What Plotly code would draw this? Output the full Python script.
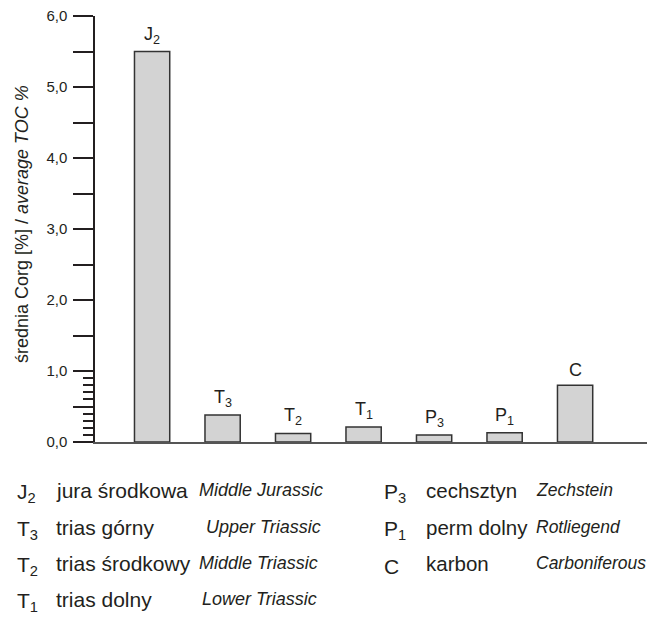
import plotly.graph_objects as go

# ---- data ----
categories = ["J2", "T3", "T2", "T1", "P3", "P1", "C"]
bar_labels = ["J<sub>2</sub>", "T<sub>3</sub>", "T<sub>2</sub>", "T<sub>1</sub>",
              "P<sub>3</sub>", "P<sub>1</sub>", "C"]
avg_toc = [5.5, 0.38, 0.12, 0.21, 0.10, 0.13, 0.80]

major_vals = [0, 0.5, 1, 1.5, 2, 2.5, 3, 3.5, 4, 4.5, 5, 5.5, 6]
major_text = ["0,0", "", "1,0", "", "2,0", "", "3,0", "", "4,0", "", "5,0", "", "6,0"]
minor_vals = [0.1, 0.2, 0.3, 0.4, 0.6, 0.7, 0.8, 0.9]

legend_col1_sym = ["J<sub>2</sub>", "T<sub>3</sub>", "T<sub>2</sub>", "T<sub>1</sub>"]
legend_col1_pl = ["jura środkowa", "trias górny", "trias środkowy", "trias dolny"]
legend_col1_en = ["Middle Jurassic", "Upper Triassic", "Middle Triassic", "Lower Triassic"]
legend_col2_sym = ["P<sub>3</sub>", "P<sub>1</sub>", "C"]
legend_col2_pl = ["cechsztyn", "perm dolny", "karbon"]
legend_col2_en = ["Zechstein", "Rotliegend", "Carboniferous"]

# ---- layout geometry (screen pixels; page body has an 8px margin) ----
OFF = 8
W, H = 655 - 2 * OFF, 623 - 2 * OFF
X0, X1 = 95, 647          # plot area left/right on screen
Y0, Y1 = 16, 442          # plot area top/bottom on screen
L = X0 - OFF
R = W - (X1 - OFF)
T = Y0 - OFF
B = H - (Y1 - OFF)
PW, PH = W - L - R, H - T - B

def px(x):
    return (x - X0) / PW

def py(y):
    return (Y1 - y) / PH

FONT = "Liberation Sans, Arial, sans-serif"
TXT = "#231f20"

fig = go.Figure()
fig.add_trace(go.Bar(
    x=list(range(len(categories))), y=avg_toc, width=0.5,
    marker=dict(color="#d3d3d3", line=dict(color="#333333", width=1.5)),
    hoverinfo="skip", showlegend=False,
))

annotations = []
for i, (lab, v) in enumerate(zip(bar_labels, avg_toc)):
    annotations.append(dict(
        x=i, y=v, xref="x", yref="y", text=lab, showarrow=False,
        xanchor="center", yanchor="bottom", yshift=3,
        font=dict(family=FONT, size=18, color=TXT),
    ))

# y-axis title
annotations.append(dict(
    x=px(22), y=py(224), xref="paper", yref="paper", textangle=-90,
    text="średnia Corg [%] / <i>average TOC %</i>", showarrow=False,
    xanchor="center", yanchor="middle",
    font=dict(family=FONT, size=18, color=TXT),
))

# legend block below chart
row_y = [490, 527, 563, 599]
col_specs = [
    (legend_col1_sym, legend_col1_pl, legend_col1_en, 15, 54, [197, 204, 197, 200], 21, 18),
    (legend_col2_sym, legend_col2_pl, legend_col2_en, 382, 424, [534, 534, 534], 20.5, 17.5),
]
for syms, pls, ens, xs, xp, xe, fp, fe in col_specs:
    for r, (s, p, e) in enumerate(zip(syms, pls, ens)):
        yy = py(row_y[r])
        annotations.append(dict(x=px(xs), y=yy, xref="paper", yref="paper", text=s,
                                showarrow=False, xanchor="left", yanchor="middle", yshift=-3,
                                font=dict(family=FONT, size=21, color=TXT)))
        annotations.append(dict(x=px(xp), y=yy, xref="paper", yref="paper", text=p,
                                showarrow=False, xanchor="left", yanchor="middle",
                                font=dict(family=FONT, size=fp, color=TXT)))
        annotations.append(dict(x=px(xe[r]), y=yy, xref="paper", yref="paper",
                                text="<i>" + e + "</i>",
                                showarrow=False, xanchor="left", yanchor="middle",
                                font=dict(family=FONT, size=fe, color=TXT)))

fig.update_layout(
    width=W, height=H,
    margin=dict(l=L, r=R, t=T, b=B, autoexpand=False),
    paper_bgcolor="white", plot_bgcolor="white",
    font=dict(family=FONT, color=TXT),
    annotations=annotations,
    xaxis=dict(range=[-0.81, 7.02], showgrid=False, zeroline=False,
               showticklabels=False, ticks="", showline=True,
               linecolor="#555555", linewidth=2, fixedrange=True),
    yaxis=dict(range=[0, 6], showgrid=False, zeroline=False,
               showline=True, linecolor="#231f20", linewidth=1.5,
               tickmode="array", tickvals=major_vals, ticktext=major_text,
               ticks="outside", ticklen=20, tickwidth=2, tickcolor="#231f20",
               ticklabelstandoff=3, ticklabeloverflow="allow",
               tickfont=dict(family=FONT, size=15, color=TXT),
               minor=dict(tickmode="array", tickvals=minor_vals, ticks="outside",
                          ticklen=10, tickwidth=2, tickcolor="#231f20"),
               fixedrange=True),
)

fig.write_html("out.html")
